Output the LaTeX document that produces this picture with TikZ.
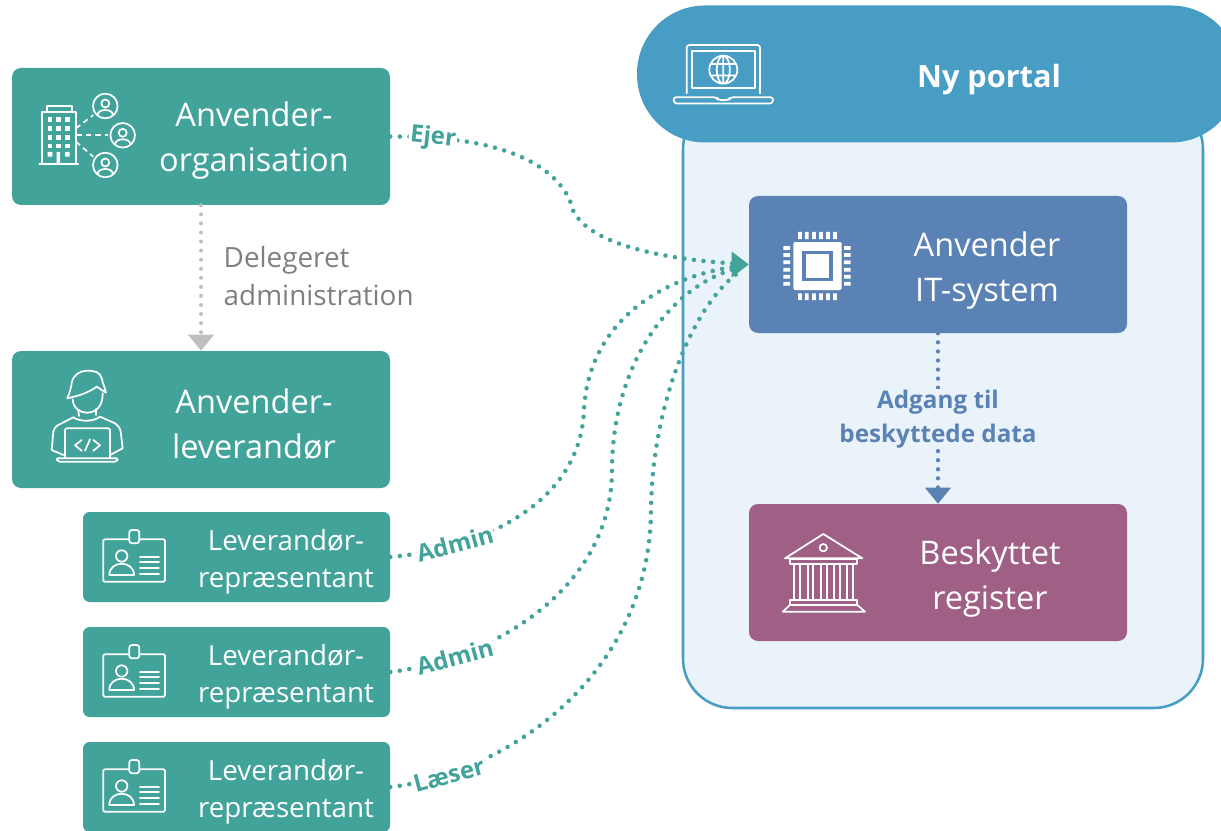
\documentclass[tikz,border=0pt]{standalone}
\usepackage{fontspec}
\setmainfont{Open Sans}
\usetikzlibrary{arrows.meta}
\definecolor{teal}{HTML}{42A39B}
\definecolor{portalblue}{HTML}{489DC4}
\definecolor{portalbg}{HTML}{EAF3FA}
\definecolor{itblue}{HTML}{5B82B4}
\definecolor{regpurple}{HTML}{A05F85}
\definecolor{delgray}{HTML}{BFBFBF}
\definecolor{txtgray}{HTML}{7F7F7F}
\tikzset{
  x=0.75pt,y=-0.75pt,
  bx/.style 2 args={minimum width=#1*0.75pt,minimum height=#2*0.75pt,inner sep=0pt,rounded corners=6.75pt},
  big/.style={bx={378}{137},fill=teal},
  rep/.style={bx={307}{90},fill=teal,rounded corners=5pt},
  bigtxt/.style={text=white,align=center,font=\fontsize{24.4}{33.75}\selectfont},
  reptxt/.style={text=white,align=center,font=\fontsize{20.8}{27.75}\selectfont},
  deltxt/.style={text=txtgray,align=left,font=\fontsize{20.9}{28.5}\selectfont},
  dots/.style={line width=3.4pt,line cap=round,dash pattern=on 0pt off 7.2pt},
  tealconn/.style={dots,draw=teal},
  rolelbl/.style={text=teal,font=\bfseries\fontsize{18}{22}\selectfont,fill=white,inner sep=1pt},
  ic/.style={draw=white,line width=1.3pt,line join=round,line cap=round,fill=none},
  icf/.style={fill=white,draw=none},
}
\newcommand{\persongl}[2]{%
  \begin{scope}[shift={(#1,#2)}]
    \draw[ic] (0,0) circle (12.3);
    \draw[ic] (0,-2.5) circle (4);
    \draw[ic] (-7.5,8.5) .. controls (-7,2.5) and (7,2.5) .. (7.5,8.5);
  \end{scope}}
\newcommand{\badgegl}[1]{%
  \begin{scope}[shift={(0,#1)}]
    \draw[ic,rounded corners=1pt] (103.3,539.3) rectangle (165,581.7);
    \draw[ic,fill=teal,rounded corners=2pt] (129.3,530) rectangle (139.3,543.3);
    \draw[ic] (121.7,556) circle (5.7);
    \draw[ic] (109.3,575) .. controls (109.3,560) and (134,560) .. (134,575) -- cycle;
    \draw[ic] (140,556.7) -- (159,556.7) (140,562.3) -- (159,562.3) (140,568) -- (159,568) (140,573.7) -- (159,573.7);
  \end{scope}}
\begin{document}
\begin{tikzpicture}
\useasboundingbox (0,0) rectangle (1221,831);
\clip (0,0) rectangle (1221,831);
% portal
\node[minimum width=520*0.75pt,minimum height=608*0.75pt,inner sep=0pt,rounded corners=37pt,fill=portalbg,draw=portalblue,line width=1.9pt] (body) at (943,404) {};
\node[minimum width=602*0.75pt,minimum height=137*0.75pt,inner sep=0pt,rounded corners=51pt,fill=portalblue] (head) at (938,74) {};
\node[text=white,font=\bfseries\fontsize{23}{28}\selectfont] (headt) at (989,80) {Ny portal};
% left boxes
\node[big] (org) at (201,136.5) {};
\node[big] (lev) at (201,419.5) {};
\node[rep] (rep1) at (236.5,557) {};
\node[rep] (rep2) at (236.5,672) {};
\node[rep] (rep3) at (236.5,787) {};
\node[bigtxt] (orgt) at (254,140.5) {Anvender-\\organisation};
\node[bigtxt] (levt) at (254,424.5) {Anvender-\\leverandør};
\node[reptxt] (rep1t) at (286,561.5) {Leverandør-\\repræsentant};
\node[reptxt] (rep2t) at (286,676.5) {Leverandør-\\repræsentant};
\node[reptxt] (rep3t) at (286,791.5) {Leverandør-\\repræsentant};
% right boxes
\node[big,fill=itblue] (it) at (938,264.5) {};
\node[big,fill=regpurple] (reg) at (938,572.5) {};
\node[bigtxt] (itt) at (987,270.5) {Anvender\\IT-system};
\node[bigtxt] (regt) at (990,578.5) {Beskyttet\\register};
% delegated
\draw[line width=3pt,line cap=round,dash pattern=on 0pt off 6.8pt,draw=delgray,shorten >=12pt] (org.south) -- (lev.north);
\fill[delgray] (lev.north) -- ++(-13,-16) -- ++(26,0) -- cycle;
\node[deltxt,anchor=west] (delt) at (219,276) {Delegeret\\administration};
% IT to register
\draw[line width=3.2pt,line cap=round,dash pattern=on 0pt off 6.8pt,draw=itblue,shorten >=12pt] (it.south) -- (reg.north);
\fill[itblue] (reg.north) -- ++(-13,-16) -- ++(26,0) -- cycle;
\node[text=itblue,font=\bfseries\fontsize{18.2}{25.5}\selectfont,fill=portalbg,align=center,inner sep=1pt] (adg) at (938,419) {Adgang til\\beskyttede data};
% role connectors
\draw[tealconn,shorten >=12pt] (org.east) .. controls (470,136) and (545,150) .. (570,200) .. controls (575,240) and (650,258) .. (it.west);
\draw[tealconn,shorten >=12pt] (rep1.east) .. controls (470,550) and (580,510) .. (584,410) .. controls (588,330) and (650,280) .. (it.west);
\draw[tealconn,shorten >=12pt] (rep2.east) .. controls (490,660) and (612,590) .. (612,470) .. controls (612,370) and (665,290) .. (it.west);
\draw[tealconn,shorten >=12pt] (rep3.east) .. controls (500,775) and (650,680) .. (651,510) .. controls (652,410) and (690,310) .. (it.west);
\fill[teal] (it.west) -- ++(-17,-13) -- ++(0,26) -- cycle;
\node[rolelbl,rotate=-6] (l0) at (433,138) {Ejer};
\node[rolelbl,rotate=15] (l1) at (455,544) {Admin};
\node[rolelbl,rotate=15] (l2) at (455,657) {Admin};
\node[rolelbl,rotate=15] (l3) at (449,775) {Læser};
% building icon
\draw[ic] (39.3,163.7) -- (78.3,163.7);
\draw[ic] (41.7,163.7) -- (41.7,111.7) -- (76,111.7) -- (76,163.7);
\draw[ic] (46.7,111.7) -- (46.7,106) -- (71.7,106) -- (71.7,111.7);
\foreach \wy in {119.3,128.3,137.3,146}{\foreach \wx in {50,58.3,67.3}{\fill[white] (\wx-2.3,\wy-2.3) rectangle (\wx+2.3,\wy+2.3);}}
\fill[white] (47.7,152) rectangle (52.3,156.6) (65,152) rectangle (69.6,156.6) (56.6,152) rectangle (60,163.7);
\draw[ic,dash pattern=on 4pt off 3pt,line cap=butt] (76,128.3) -- (93.3,115);
\draw[ic,dash pattern=on 4pt off 3pt,line cap=butt] (76.7,135.3) -- (108.3,135.3);
\draw[ic,dash pattern=on 4pt off 3pt,line cap=butt] (76,141.7) -- (93.3,156.7);
\persongl{105.3}{106}\persongl{122.7}{135.3}\persongl{105.3}{165}
% developer icon
\draw[ic] (67.3,398.3) .. controls (70,392) and (71,388) .. (71.7,383) .. controls (73,375) and (80,370.7) .. (86.7,370.7) .. controls (95,370.7) and (100,372) .. (101.7,378.3) .. controls (103,384) and (105,388) .. (106,392.7) -- (96.7,386.7) .. controls (88,393) and (78,396) .. (67.3,398.3);
\draw[ic] (72.7,399.3) .. controls (73,408) and (80,412.7) .. (86.7,412.7) .. controls (96,412.7) and (103,406) .. (102.7,393.3);
\draw[ic] (78.3,410) -- (79,416) (96,409) -- (96,415);
\draw[ic] (73.3,417.3) .. controls (80,422) and (93,422) .. (100,416.7);
\draw[ic] (73.3,417.3) -- (58.3,425) .. controls (55,427) and (54,429) .. (53.3,431.7) -- (51.7,450) -- (63.3,455);
\draw[ic] (100,416.7) -- (115,423.3) .. controls (118,425) and (120,428) .. (120.7,431.7) -- (122.7,448.3) -- (110,455);
\draw[ic,rounded corners=1.5pt] (65,458.3) -- (65,428.3) -- (110,428.3) -- (110,458.3);
\draw[ic,rounded corners=1.5pt] (56,458.3) -- (118.3,458.3) -- (117,461.7) -- (57.5,461.7) -- cycle;
\draw[ic] (81.7,440) -- (75,445.3) -- (81.7,450.7) (90,439.3) -- (85,450.7) (93.3,440) -- (100,445.3) -- (93.3,450.7);
% badges
\badgegl{0}\badgegl{115}\badgegl{230}
% laptop
\draw[ic,rounded corners=2pt] (686.7,93.3) -- (686.7,45) -- (760,45) -- (760,93.3);
\draw[ic] (692.3,50.7) rectangle (754.7,88.3);
\draw[ic] (723.3,69.7) circle (14) (723.3,69.7) ellipse (6.5 and 14) (723.3,55.7) -- (723.3,83.7) (711,64) -- (735.6,64) (711,75.4) -- (735.6,75.4);
\draw[ic,rounded corners=2pt] (673.3,97.3) -- (716.7,97.3) -- (718,100) -- (729,100) -- (730.3,97.3) -- (773.3,97.3) -- (772.5,103.5) -- (674.2,103.5) -- cycle;
% chip
\fill[white,rounded corners=1.5pt] (793.3,242) rectangle (841.7,290);
\fill[itblue] (802.3,250.7) rectangle (832.7,281);
\fill[white] (805.7,254.3) rectangle (829.3,277.7);
\foreach \p in {800,806.7,814,821,828,835}{\fill[white] (\p-1.9,232) rectangle (\p+1.9,239) (\p-1.9,293.3) rectangle (\p+1.9,300);}
\foreach \p in {248,255,262.3,269.7,276.7,283.7}{\fill[white] (783.3,\p-1.9) rectangle (790,\p+1.9) (844,\p-1.9) rectangle (850.7,\p+1.9);}
% temple
\draw[ic] (785,558.3) -- (823.3,534) -- (862.3,558.3) -- cycle;
\draw[ic] (823.3,547.7) circle (3.7);
\draw[ic] (790,559.3) rectangle (857.3,564.3);
\foreach \a/\b in {794.3/800,807.7/813.3,821/826.7,834.3/840,847.3/852.7}{\draw[ic] (\a,564.3) -- (\a,600) (\b,564.3) -- (\b,600);}
\draw[ic] (790,600) rectangle (857.3,605);
\draw[ic] (790,605) -- (782.7,611.7) -- (865,611.7) -- (857.3,605);
\end{tikzpicture}
\end{document}
